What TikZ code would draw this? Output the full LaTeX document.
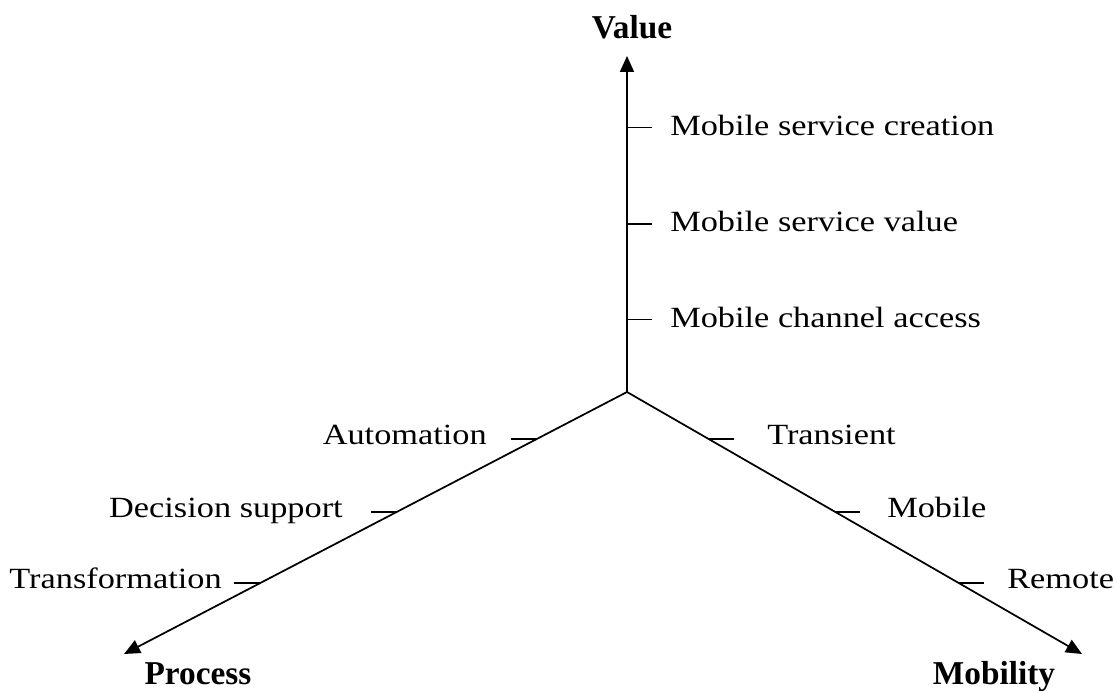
\documentclass[tikz,border=0pt]{standalone}
\usepackage{fontspec}
\setmainfont{Liberation Serif}
\newfontfamily\labelfont[FakeStretch=1.17]{Liberation Serif}
\usetikzlibrary{arrows.meta}

\tikzset{
  axis/.style={line width=1.3pt, -{Triangle[length=12pt,width=10.5pt]}},
  tick/.style={line width=1.3pt},
  lbl/.style={inner sep=0pt, font=\labelfont\fontsize{22}{26}\selectfont},
  ttl/.style={inner sep=0pt, font=\bfseries\fontsize{25}{30}\selectfont},
}

\begin{document}
\begin{tikzpicture}[x=0.75pt,y=-0.75pt]
  \useasboundingbox (0,0) rectangle (1117,691);

  % origin and arrow tips of the three axes
  \coordinate (O) at (627,392);
  \coordinate (V) at (627,56);
  \coordinate (P) at (124,654);
  \coordinate (M) at (1082,654);

  \draw[axis] (O) -- (V);
  \draw[axis] (O) -- (P);
  \draw[axis] (O) -- (M);

  % ticks on the value axis
  \coordinate (v1) at (627,127.5);
  \coordinate (v2) at (627,224);
  \coordinate (v3) at (627,319.5);
  \foreach \t in {v1,v2,v3} \draw[tick] (\t) -- ++(25,0);

  % ticks on the process axis (pointing left)
  \path (O) -- (P) coordinate[pos=0.1794] (p1)
                   coordinate[pos=0.4569] (p2)
                   coordinate[pos=0.7290] (p3);
  \foreach \t in {p1,p2,p3} \draw[tick] (\t) -- ++(-26,0);

  % ticks on the mobility axis (pointing right)
  \path (O) -- (M) coordinate[pos=0.1794] (m1)
                   coordinate[pos=0.4569] (m2)
                   coordinate[pos=0.7290] (m3);
  \foreach \t in {m1,m2,m3} \draw[tick] (\t) -- ++(25,0);

  % axis titles
  \node[ttl, anchor=base] (tv) at (632,39) {Value};
  \node[ttl, anchor=base] (tp) at (198,684) {Process};
  \node[ttl, anchor=base] (tm) at (994,684) {Mobility};

  % value axis labels
  \node[lbl, anchor=base west] (lv1) at (670,135.5) {Mobile service creation};
  \node[lbl, anchor=base west] (lv2) at (670,232) {Mobile service value};
  \node[lbl, anchor=base west] (lv3) at (670,328) {Mobile channel access};

  % process axis labels
  \node[lbl, anchor=base east] (lp1) at (487,445) {Automation};
  \node[lbl, anchor=base east] (lp2) at (343,517) {Decision support};
  \node[lbl, anchor=base east] (lp3) at (222,588) {Transformation};

  % mobility axis labels
  \node[lbl, anchor=base west] (lm1) at (767,445) {Transient};
  \node[lbl, anchor=base west] (lm2) at (887,517) {Mobile};
  \node[lbl, anchor=base west] (lm3) at (1007,588) {Remote};
\end{tikzpicture}
\end{document}
